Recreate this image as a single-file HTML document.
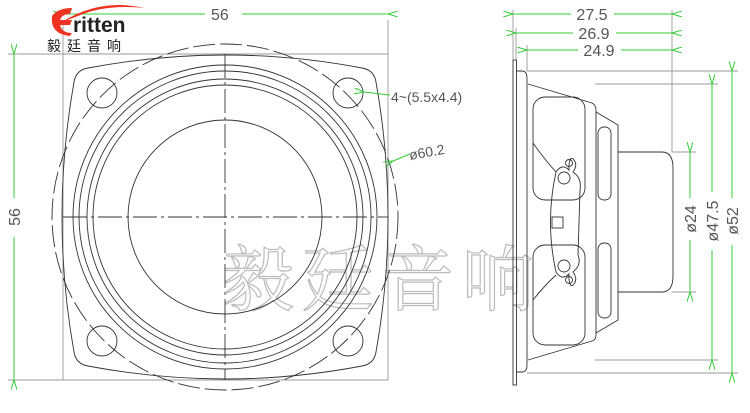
<!DOCTYPE html>
<html><head><meta charset="utf-8"><style>
html,body{margin:0;padding:0;background:#fff;width:750px;height:413px;overflow:hidden}
svg{display:block}
</style></head><body>
<svg width="750" height="413" viewBox="0 0 750 413" xmlns="http://www.w3.org/2000/svg">
<defs>
<marker id="a" markerWidth="10" markerHeight="6" refX="0" refY="3" orient="auto-start-reverse" markerUnits="userSpaceOnUse"><path d="M10,0 L0,3 L10,6" fill="none" stroke="#3c3" stroke-width="1"/></marker>
</defs>
<!-- watermark -->
<text x="222" y="305" font-family="'Noto Serif CJK SC',serif" font-size="72" fill="none" stroke="#bbb" stroke-width="1.2" letter-spacing="8">毅廷音响</text>

<!-- front view -->
<g fill="none" stroke="#333" stroke-width="0.9">
<line x1="63" y1="54" x2="388" y2="54" stroke="#999"/>
<line x1="63" y1="380" x2="388" y2="380" stroke="#999"/>
<line x1="63" y1="20" x2="63" y2="380" stroke="#999"/>
<line x1="388" y1="20" x2="388" y2="380" stroke="#999"/>
<line x1="8" y1="54" x2="63" y2="54" stroke="#999"/>
<line x1="8" y1="380" x2="63" y2="380" stroke="#999"/>
<circle cx="225" cy="217" r="173" stroke-dasharray="22,5"/>
<path d="M88,68 Q225,42 362,68 Q374,70 376,82 Q400,217 376,352 Q374,364 362,366 Q225,392 88,366 Q76,364 74,352 Q50,217 74,82 Q76,70 88,68Z"/>
<circle cx="225" cy="217" r="152"/>
<circle cx="225" cy="217" r="146"/>
<circle cx="225" cy="217" r="138"/>
<circle cx="225" cy="217" r="132"/>
<circle cx="225" cy="217" r="97"/>
<circle cx="102" cy="93" r="15"/><circle cx="348" cy="93" r="15"/>
<circle cx="102" cy="341" r="15"/><circle cx="348" cy="341" r="15"/>
<line x1="63" y1="217" x2="388" y2="217" stroke-dasharray="24,4,3,4"/>
<line x1="225" y1="54" x2="225" y2="380" stroke-dasharray="24,4,3,4"/>
</g>
<!-- front dims -->
<g stroke="#3c3" stroke-width="1" fill="none">
<line x1="63" y1="14" x2="205" y2="14" marker-start="url(#a)"/>
<line x1="242" y1="14" x2="388" y2="14" marker-end="url(#a)"/>
<line x1="14" y1="54" x2="14" y2="198" marker-start="url(#a)"/>
<line x1="14" y1="237" x2="14" y2="380" marker-end="url(#a)"/>
<line x1="364" y1="92" x2="390" y2="95" marker-start="url(#a)"/>
<line x1="393" y1="161" x2="410" y2="154" marker-start="url(#a)"/>
</g>
<g font-family="'Liberation Sans',sans-serif" fill="#555" font-size="16">
<text x="211" y="20">56</text>
<text x="20" y="217" transform="rotate(-90 20 217)" text-anchor="middle">56</text>
<text x="391" y="102" font-size="14">4~(5.5x4.4)</text>
<text x="410" y="160" font-size="14" transform="rotate(-10 410 160)">ø60.2</text>
</g>

<!-- logo -->
<path d="M62,22 Q100,-2 145,8 Q105,4 78,16Z" fill="#e32"/>
<path d="M52,16 Q58,8 72,8 L70,14 Q62,14 60,20 L72,20 L70,25 L60,25 Q62,33 72,33 L70,36 Q50,34 52,16Z" fill="#e32"/>
<text x="73" y="32" font-family="'Liberation Sans',sans-serif" font-weight="bold" font-size="21" fill="#222">ritten</text>
<text x="47" y="51" font-family="'Liberation Sans','Noto Sans CJK SC',sans-serif" font-size="14" fill="#222" letter-spacing="6">毅廷音响</text>

<!-- side view -->
<g fill="none" stroke="#333" stroke-width="0.9">
<rect x="513" y="60" width="3.5" height="325"/>
<path d="M516,71 L522,71 Q527,71 527,78 L527,365 Q527,372 522,372 L516,372"/>
<line x1="513" y1="10" x2="513" y2="60" stroke="#999"/>
<line x1="516" y1="28" x2="516" y2="60" stroke="#999"/>
<line x1="527" y1="45" x2="527" y2="71" stroke="#999"/>
<line x1="672" y1="10" x2="672" y2="152" stroke="#999"/>
<line x1="527" y1="71" x2="738" y2="71" stroke="#999"/>
<line x1="527" y1="373" x2="738" y2="373" stroke="#999"/>
<line x1="595" y1="84" x2="718" y2="84" stroke="#999"/>
<line x1="595" y1="360" x2="718" y2="360" stroke="#999"/>
<line x1="672" y1="152" x2="696" y2="152" stroke="#999"/>
<line x1="672" y1="292" x2="696" y2="292" stroke="#999"/>
<path d="M528,84 L592,103 Q596,105 596,110 L596,335 Q596,340 592,341 L528,360"/>
<path d="M596,112 L618,125 L618,320 L596,333"/>
<path d="M618,152 L662,152 Q673,152 673,168 L673,276 Q673,292 662,292 L618,292"/>
<rect x="533" y="97" width="52" height="103" rx="12"/>
<rect x="533" y="245" width="52" height="100" rx="12"/>
<rect x="598" y="127" width="13" height="73" rx="6"/>
<rect x="598" y="243" width="13" height="75" rx="6"/>
<path d="M533,143 Q545,160 556,172"/>
<path d="M533,300 Q545,285 556,275"/>
<path d="M556,172 Q562,163 569,170 L569,165 Q570,155 574,160 Q578,165 573,172 Q582,178 580,190 L578,255 Q582,265 573,272 Q578,279 574,284 Q570,289 569,279 L569,274 Q562,281 556,272 Q545,222 556,172Z"/>
<circle cx="569" cy="163" r="3.5"/><circle cx="569" cy="280" r="3.5"/>
<circle cx="564" cy="178" r="6"/><circle cx="564" cy="266" r="6"/>
<rect x="552" y="217" width="11" height="11"/>
</g>
<g stroke="#3c3" stroke-width="1" fill="none">
<line x1="513" y1="14" x2="571" y2="14" marker-start="url(#a)"/>
<line x1="614" y1="14" x2="672" y2="14" marker-end="url(#a)"/>
<line x1="516" y1="33" x2="573" y2="33" marker-start="url(#a)"/>
<line x1="616" y1="33" x2="672" y2="33" marker-end="url(#a)"/>
<line x1="527" y1="50" x2="578" y2="50" marker-start="url(#a)"/>
<line x1="621" y1="50" x2="672" y2="50" marker-end="url(#a)"/>
<line x1="690" y1="152" x2="690" y2="198" marker-start="url(#a)"/>
<line x1="690" y1="240" x2="690" y2="292" marker-end="url(#a)"/>
<line x1="712" y1="84" x2="712" y2="192" marker-start="url(#a)"/>
<line x1="712" y1="250" x2="712" y2="360" marker-end="url(#a)"/>
<line x1="732" y1="71" x2="732" y2="198" marker-start="url(#a)"/>
<line x1="732" y1="245" x2="732" y2="373" marker-end="url(#a)"/>
</g>
<g font-family="'Liberation Sans',sans-serif" fill="#555" font-size="16">
<text x="592" y="20" text-anchor="middle">27.5</text>
<text x="594" y="39" text-anchor="middle">26.9</text>
<text x="599" y="56" text-anchor="middle">24.9</text>
<text x="696" y="219" transform="rotate(-90 696 219)" text-anchor="middle">ø24</text>
<text x="718" y="221" transform="rotate(-90 718 221)" text-anchor="middle">ø47.5</text>
<text x="738" y="221" transform="rotate(-90 738 221)" text-anchor="middle">ø52</text>
</g>
</svg>
</body></html>
